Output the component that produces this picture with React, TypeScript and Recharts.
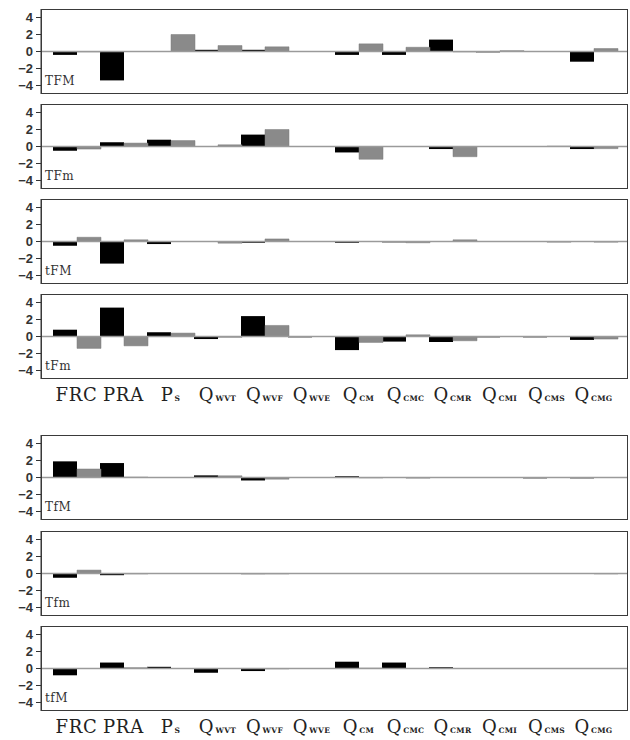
import { BarChart, Bar, XAxis, YAxis, ReferenceLine } from "recharts"

const categories = ["FRC", "PRA", "Ps", "Qwvt", "Qwvf", "Qwve", "Qcm", "Qcmc", "Qcmr", "Qcmi", "Qcms", "Qcmg"]
const tickMain = ["FRC", "PRA", "P", "Q", "Q", "Q", "Q", "Q", "Q", "Q", "Q", "Q"]
const tickSub = ["", "", "S", "WVT", "WVF", "WVE", "CM", "CMC", "CMR", "CMI", "CMS", "CMG"]
const yTicks = [-4, -2, 0, 2, 4]

// black = first bar of each pair, gray = second
const blackTFM = [-0.4, -3.4, 0, 0.2, 0.2, 0, -0.4, -0.4, 1.4, -0.1, 0, -1.2]
const grayTFM = [-0.05, 0, 2.0, 0.7, 0.55, 0, 0.9, 0.5, -0.05, 0.1, 0, 0.35]
const blackTFm = [-0.5, 0.5, 0.8, 0, 1.4, 0, -0.7, -0.05, -0.3, 0, 0, -0.3]
const grayTFm = [-0.3, 0.4, 0.7, 0.2, 2.0, 0, -1.5, 0, -1.2, 0, 0.05, -0.25]
const blacktFM = [-0.5, -2.6, -0.3, 0, -0.15, 0, -0.15, -0.1, 0, 0, 0, 0]
const graytFM = [0.5, 0.2, 0, -0.2, 0.3, 0, 0, -0.15, 0.2, 0, -0.08, -0.08]
const blacktFm = [0.8, 3.4, 0.5, -0.3, 2.4, -0.1, -1.6, -0.6, -0.65, -0.1, -0.1, -0.4]
const graytFm = [-1.4, -1.1, 0.4, -0.1, 1.3, 0, -0.7, 0.2, -0.5, 0, 0, -0.3]
const blackTfM = [1.9, 1.7, 0, 0.25, -0.35, -0.05, 0.15, 0, 0, 0, -0.1, -0.1]
const grayTfM = [1.0, 0.05, 0, 0.2, -0.2, 0, -0.05, -0.08, 0, 0, 0, 0]
const blackTfm = [-0.5, -0.2, 0, 0, -0.08, 0, -0.05, -0.05, -0.05, 0, 0, 0]
const grayTfm = [0.4, -0.05, 0, 0, -0.05, 0, 0, 0, 0, 0, 0, -0.05]
const blacktfM = [-0.8, 0.7, 0.2, -0.5, -0.3, 0, 0.8, 0.7, 0.15, 0, 0, 0]
const graytfM = [0, 0.1, 0, 0, -0.05, 0, 0.05, 0, 0, 0, 0, 0]

const panels = [
  { name: "TFM", black: blackTFM, gray: grayTFM, top: 9, labels: false },
  { name: "TFm", black: blackTFm, gray: grayTFm, top: 104, labels: false },
  { name: "tFM", black: blacktFM, gray: graytFM, top: 199, labels: false },
  { name: "tFm", black: blacktFm, gray: graytFm, top: 294, labels: true },
  { name: "TfM", black: blackTfM, gray: grayTfM, top: 435, labels: false },
  { name: "Tfm", black: blackTfm, gray: grayTfm, top: 531, labels: false },
  { name: "tfM", black: blacktfM, gray: graytfM, top: 626, labels: true },
]

const PLOT_H = 85
const PLOT_LEFT = 41
const PLOT_W = 587
const AXIS_H = 28

function CatTick(props: any) {
  const { x, y, index } = props
  return (
    <text x={x} y={y + 14} textAnchor="middle" fontFamily="DejaVu Serif" fontSize={18} letterSpacing={0.8} fill="#222">
      <tspan>{tickMain[index]}</tspan>
      {tickSub[index] && (
        <tspan fontSize={7.5} fontWeight="bold" letterSpacing={0.3} dx={1}>
          {tickSub[index]}
        </tspan>
      )}
    </text>
  )
}

function Panel({ p }: { p: (typeof panels)[number] }) {
  const data = categories.map((c, i) => ({ cat: c, black: p.black[i], gray: p.gray[i] }))
  const h = PLOT_H + (p.labels ? AXIS_H : 0)
  return (
    <div style={{ position: "absolute", left: 0, top: p.top, width: 630, height: h }}>
      <BarChart
        width={630}
        height={h}
        data={data}
        margin={{ top: 0, right: 2, bottom: 0, left: 6 }}
        barCategoryGap={0}
        barGap={0}
      >
        <XAxis
          dataKey="cat"
          hide={!p.labels}
          height={AXIS_H}
          padding={{ left: 12, right: 11 }}
          axisLine={false}
          tickLine={false}
          interval={0}
          tick={<CatTick />}
        />
        <YAxis
          width={35}
          domain={[-5, 5]}
          ticks={yTicks}
          interval={0}
          allowDataOverflow
          tickSize={5}
          tickMargin={3}
          stroke="#333"
          tickFormatter={(v: number) => String(v).replace("-", "−")}
          tick={{ fontFamily: "Liberation Sans", fontSize: 13, fontWeight: "bold", fill: "#333" }}
        />
        <ReferenceLine y={0} stroke="#9a9a9a" strokeWidth={1.5} />
        <Bar dataKey="black" fill="#000" isAnimationActive={false} />
        <Bar dataKey="gray" fill="#8a8a8a" stroke="#7a7a7a" strokeWidth={0.5} isAnimationActive={false} />
      </BarChart>
      <div
        style={{
          position: "absolute",
          left: PLOT_LEFT,
          top: 0,
          width: PLOT_W,
          height: PLOT_H,
          border: "1.5px solid #3a3a3a",
          boxSizing: "border-box",
          pointerEvents: "none",
        }}
      />
      <div
        style={{
          position: "absolute",
          left: PLOT_LEFT + 4,
          top: 65,
          fontFamily: "DejaVu Serif",
          fontSize: 12,
          letterSpacing: 0.5,
          color: "#333",
        }}
      >
        {p.name}
      </div>
    </div>
  )
}

export default function App() {
  return (
    <div style={{ position: "absolute", left: 0, top: 0, width: 630, height: 740, background: "#fff" }}>
      {panels.map((p) => (
        <Panel key={p.name} p={p} />
      ))}
    </div>
  )
}
